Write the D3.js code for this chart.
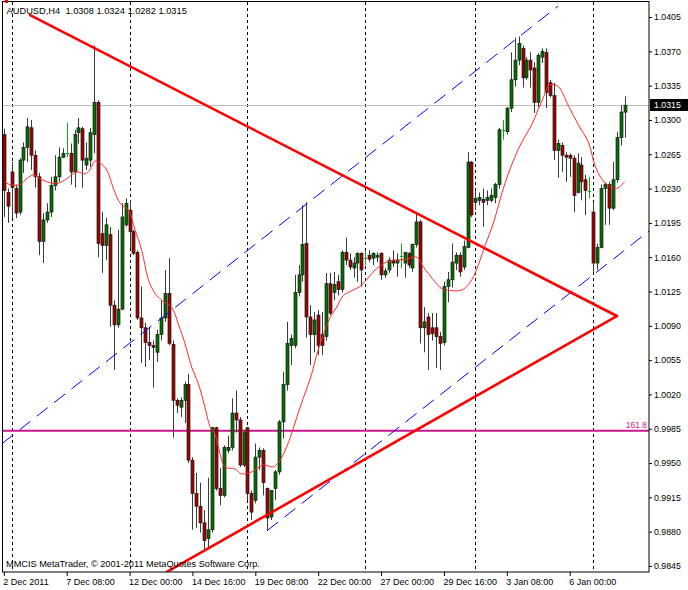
<!DOCTYPE html>
<html><head><meta charset="utf-8">
<script src="https://cdn.jsdelivr.net/npm/d3@7"></script>
<style>body{margin:0;background:#fff}svg{display:block}text{font-family:"Liberation Sans",Arial,sans-serif}</style>
</head><body><svg id="c" width="688" height="590"></svg>
<script>
const symbol = "AUDUSD,H4";
const openP = [1.0285,1.0226,1.0247,1.0230,1.0206,1.0259,1.0272,1.0292,1.0264,1.0242,1.0176,1.0198,1.0206,1.0233,1.0242,1.0262,1.0266,1.0266,1.0247,1.0287,1.0291,1.0254,1.0259,1.0285,1.0318,1.0184,1.0172,1.0183,1.0111,1.0091,1.0107,1.0193,1.0208,1.0186,1.0165,1.0098,1.0088,1.0073,1.0070,1.0063,1.0081,1.0098,1.0123,1.0071,1.0014,1.0007,1.0014,1.0030,0.9953,0.9919,0.9906,0.9889,0.9873,0.9882,0.9986,0.9924,0.9917,0.9963,0.9966,1.0001,0.9994,0.9948,0.9986,0.9919,0.9912,0.9956,0.9963,0.9924,0.9895,0.9924,0.9941,0.9992,1.0030,1.0070,1.0070,1.0124,1.0142,1.0174,1.0099,1.0081,1.0101,1.0081,1.0079,1.0133,1.0124,1.0135,1.0127,1.0165,1.0157,1.0149,1.0154,1.0164,1.0159,1.0162,1.0159,1.0160,1.0164,1.0142,1.0147,1.0157,1.0154,1.0161,1.0154,1.0164,1.0149,1.0173,1.0196,1.0088,1.0099,1.0088,1.0088,1.0079,1.0073,1.0130,1.0137,1.0154,1.0162,1.0150,1.0170,1.0257,1.0216,1.0218,1.0219,1.0218,1.0218,1.0221,1.0234,1.0290,1.0288,1.0312,1.0341,1.0361,1.0373,1.0343,1.0361,1.0353,1.0318,1.0364,1.0369,1.0338,1.0325,1.0269,1.0274,1.0264,1.0264,1.0261,1.0226,1.0254,1.0239,1.0228,1.0206,1.0154,1.0170,1.0230,1.0234,1.0210,1.0239,1.0282,1.0308];
const highP = [1.0291,1.0230,1.0257,1.0234,1.0261,1.0277,1.0302,1.0300,1.0269,1.0246,1.0205,1.0215,1.0242,1.0264,1.0272,1.0271,1.0297,1.0276,1.0290,1.0302,1.0293,1.0277,1.0292,1.0376,1.0320,1.0206,1.0200,1.0191,1.0116,1.0188,1.0215,1.0220,1.0218,1.0188,1.0167,1.0130,1.0093,1.0089,1.0075,1.0086,1.0116,1.0147,1.0159,1.0075,1.0016,1.0017,1.0033,1.0041,0.9956,0.9940,0.9930,0.9902,0.9935,0.9987,0.9987,0.9945,0.9968,0.9978,1.0016,1.0024,0.9997,0.9984,0.9987,0.9922,0.9970,0.9966,0.9965,0.9925,0.9922,0.9943,0.9994,1.0043,1.0094,1.0081,1.0142,1.0152,1.0213,1.0216,1.0111,1.0104,1.0106,1.0104,1.0144,1.0144,1.0145,1.0142,1.0167,1.0180,1.0164,1.0160,1.0165,1.0165,1.0167,1.0167,1.0165,1.0165,1.0165,1.0149,1.0160,1.0167,1.0164,1.0174,1.0165,1.0165,1.0174,1.0205,1.0198,1.0109,1.0103,1.0103,1.0103,1.0084,1.0135,1.0145,1.0174,1.0165,1.0165,1.0177,1.0267,1.0258,1.0228,1.0226,1.0230,1.0228,1.0230,1.0236,1.0292,1.0300,1.0313,1.0369,1.0384,1.0385,1.0376,1.0364,1.0369,1.0359,1.0368,1.0373,1.0373,1.0341,1.0338,1.0280,1.0277,1.0267,1.0266,1.0264,1.0266,1.0262,1.0244,1.0242,1.0215,1.0174,1.0234,1.0236,1.0237,1.0257,1.0288,1.0315,1.0324];
const lowP = [1.0201,1.0195,1.0200,1.0200,1.0203,1.0246,1.0257,1.0249,1.0231,1.0162,1.0154,1.0195,1.0201,1.0228,1.0237,1.0261,1.0262,1.0234,1.0231,1.0276,1.0231,1.0249,1.0252,1.0266,1.0160,1.0144,1.0157,1.0089,1.0045,1.0088,1.0106,1.0191,1.0169,1.0162,1.0096,1.0052,1.0048,1.0055,1.0027,1.0053,1.0075,1.0094,1.0070,0.9976,1.0001,0.9997,0.9991,0.9950,0.9882,0.9884,0.9879,0.9861,0.9863,0.9879,0.9922,0.9907,0.9915,0.9960,0.9963,0.9981,0.9946,0.9946,0.9912,0.9892,0.9909,0.9943,0.9917,0.9881,0.9892,0.9912,0.9938,0.9975,1.0024,1.0050,1.0067,1.0120,1.0135,1.0078,1.0050,1.0063,1.0060,1.0060,1.0075,1.0101,1.0116,1.0121,1.0124,1.0152,1.0147,1.0139,1.0135,1.0130,1.0152,1.0155,1.0152,1.0155,1.0137,1.0139,1.0144,1.0150,1.0140,1.0149,1.0139,1.0149,1.0145,1.0170,1.0072,1.0063,1.0045,1.0075,1.0047,1.0045,1.0070,1.0114,1.0129,1.0147,1.0140,1.0147,1.0169,1.0201,1.0208,1.0213,1.0191,1.0213,1.0216,1.0215,1.0230,1.0280,1.0285,1.0308,1.0334,1.0356,1.0333,1.0341,1.0333,1.0307,1.0313,1.0358,1.0312,1.0323,1.0259,1.0241,1.0247,1.0237,1.0242,1.0206,1.0225,1.0218,1.0203,1.0220,1.0145,1.0147,1.0169,1.0193,1.0193,1.0208,1.0236,1.0274,1.0282];
const closeP = [1.0228,1.0212,1.0231,1.0205,1.0259,1.0272,1.0293,1.0264,1.0242,1.0176,1.0198,1.0206,1.0233,1.0242,1.0262,1.0266,1.0266,1.0247,1.0285,1.0292,1.0259,1.0261,1.0287,1.0318,1.0174,1.0172,1.0193,1.0111,1.0091,1.0107,1.0201,1.0215,1.0186,1.0164,1.0098,1.0088,1.0073,1.0070,1.0068,1.0081,1.0098,1.0123,1.0072,1.0014,1.0009,1.0014,1.0030,0.9953,0.9919,0.9906,0.9889,0.9871,0.9882,0.9986,0.9924,0.9917,0.9966,0.9966,1.0001,0.9994,0.9948,0.9981,0.9919,0.9900,0.9956,0.9963,0.9930,0.9894,0.9922,0.9941,0.9992,1.0030,1.0072,1.0077,1.0124,1.0142,1.0173,1.0099,1.0081,1.0096,1.0070,1.0070,1.0133,1.0103,1.0132,1.0127,1.0165,1.0157,1.0150,1.0154,1.0164,1.0147,1.0159,1.0158,1.0164,1.0162,1.0142,1.0146,1.0157,1.0154,1.0157,1.0161,1.0165,1.0152,1.0173,1.0196,1.0088,1.0094,1.0081,1.0082,1.0079,1.0072,1.0130,1.0137,1.0155,1.0162,1.0145,1.0171,1.0257,1.0203,1.0220,1.0221,1.0216,1.0221,1.0223,1.0234,1.0290,1.0290,1.0312,1.0341,1.0361,1.0378,1.0343,1.0361,1.0351,1.0318,1.0366,1.0370,1.0328,1.0325,1.0269,1.0276,1.0264,1.0262,1.0261,1.0223,1.0256,1.0237,1.0228,1.0228,1.0154,1.0170,1.0230,1.0234,1.0210,1.0239,1.0282,1.0308,1.0315];

// moving average (bar index, price)
const maBar = [0.3,1.6,4.1,5.8,7.5,9.2,10.9,13.5,16,18.5,20.7,21.9,23.2,24.5,26.2,27.9,29.6,31.7,33.4,35.1,36.8,38.5,40.2,42.7,44.4,46.1,47.8,49.5,51.2,52.5,53.7,55,56.3,58.8,60.5,63.1,66,68.6,70.3,72.8,74.5,76.2,78.3,79.6,81.3,83,84.7,86.4,88.1,90.6,92.3,94.5,97.4,100,102.5,105.1,106.8,109.3,111.4,113.5,116.1,117.8,119.5,121.2,122.4,124.6,127.5,130.9,134.3,136.9,139,141.1,143.6,146.2,148.7,150.4,152.1,154.2,155.9,158];
const maVal = [1.0237,1.0234,1.0234,1.0240,1.0244,1.0240,1.0237,1.0235,1.0240,1.0247,1.0245,1.0249,1.0258,1.0256,1.0249,1.0230,1.0215,1.0208,1.0188,1.0167,1.0137,1.0123,1.0116,1.0109,1.0092,1.0072,1.0048,1.0031,1.0007,0.9987,0.9980,0.9960,0.9946,0.9944,0.9939,0.9941,0.9948,0.9946,0.9953,0.9975,0.9996,1.0016,1.0040,1.0060,1.0081,1.0098,1.0109,1.0121,1.0125,1.0130,1.0137,1.0147,1.0155,1.0157,1.0158,1.0160,1.0150,1.0137,1.0128,1.0126,1.0126,1.0130,1.0140,1.0157,1.0171,1.0195,1.0235,1.0270,1.0295,1.0319,1.0336,1.0334,1.0315,1.0295,1.0278,1.0254,1.0240,1.0232,1.0230,1.0237];

const priceTicks = [1.0405,1.0370,1.0335,1.0300,1.0265,1.0230,1.0195,1.0160,1.0125,1.0090,1.0055,1.0020,0.9985,0.9950,0.9915,0.9880,0.9845];
const timeLabels = ["2 Dec 2011","7 Dec 08:00","12 Dec 00:00","14 Dec 16:00","19 Dec 08:00","22 Dec 00:00","27 Dec 00:00","29 Dec 16:00","3 Jan 08:00","6 Jan 00:00"];
const timeLabelBars = [0,16,32,48,64,80,96,112,128,144];
const weekStartBars = [2,32,62,92,120,150];

// drawn objects (bar index, price)
const redTrendA = [[6.7,1.0407],[156,1.0100]];
const redTrendB = [[41.5,0.9839],[156,1.0100]];
const blueChannelA = [[-0.4,0.9970],[141.0,1.0416]];
const blueChannelB = [[67,0.9881],[164.3,1.0187]];
const fiboLevel = 0.9983, fiboLabel = "161.8";
const copyright = "MMCIS MetaTrader, \u00a9 2001-2011 MetaQuotes Software Corp.";

const N = closeP.length;
const svg = d3.select("#c");
const L = 2.5, R = 649, T = 2, B = 572;
const x = d3.scaleLinear().domain([0, N-1]).range([3.8, 624.7]);
const y = d3.scaleLinear().domain([0.9845, 1.0405]).range([566, 17]);

svg.append("defs").append("clipPath").attr("id","clip")
  .append("rect").attr("x",L).attr("y",T).attr("width",R-L).attr("height",B-T);

const plot = svg.append("g").attr("clip-path","url(#clip)");

// weekly vertical grid
plot.selectAll("line.grid").data(weekStartBars).join("line")
  .attr("x1", d => Math.round(x(d))+0.5).attr("x2", d => Math.round(x(d))+0.5)
  .attr("y1", T).attr("y2", B)
  .attr("stroke","#000").attr("stroke-width",1).attr("stroke-dasharray","3,3");

// current price line
const last = closeP[N-1];
plot.append("line").attr("x1",L).attr("x2",R)
  .attr("y1", Math.round(y(last))+0.5).attr("y2", Math.round(y(last))+0.5)
  .attr("stroke","#c0c0c0").attr("stroke-width",1);

// fibo level
plot.append("line").attr("x1",L).attr("x2",R)
  .attr("y1", y(fiboLevel)).attr("y2", y(fiboLevel))
  .attr("stroke","#c8168c").attr("stroke-width",2);

const bars = d3.range(N).map(i => ({i, o:openP[i], h:highP[i], l:lowP[i], c:closeP[i]}));
const cg = plot.append("g");
const doji = d => Math.abs(d.o - d.c) < 0.00005;
cg.selectAll("line.wick").data(bars).join("line")
  .attr("x1", d => Math.round(x(d.i))+0.5).attr("x2", d => Math.round(x(d.i))+0.5)
  .attr("y1", d => y(d.h)).attr("y2", d => y(d.l))
  .attr("stroke", d => doji(d) ? "#1aa01a" : "#3a3a3a").attr("stroke-width",1);
cg.selectAll("line.dtick").data(bars.filter(doji)).join("line")
  .attr("x1", d => Math.round(x(d.i))-1).attr("x2", d => Math.round(x(d.i))+2)
  .attr("y1", d => Math.round(y(d.o))+0.5).attr("y2", d => Math.round(y(d.o))+0.5)
  .attr("stroke","#1aa01a").attr("stroke-width",1);
cg.selectAll("rect.body").data(bars.filter(d => !doji(d))).join("rect")
  .attr("x", d => Math.round(x(d.i))-1)
  .attr("width", 3)
  .attr("y", d => Math.min(y(d.o), y(d.c)))
  .attr("height", d => Math.max(1, Math.abs(y(d.o)-y(d.c))))
  .attr("fill", d => d.c > d.o ? "#006e00" : "#a00000")
  .attr("stroke","#1a1a1a").attr("stroke-width",0.7);

// moving average
const maPts = maBar.map((b,k) => [b, maVal[k]]);
plot.append("path").datum(maPts)
  .attr("d", d3.line().x(d => x(d[0])).y(d => y(d[1])).curve(d3.curveCatmullRom))
  .attr("fill","none").attr("stroke","#ff2a2a").attr("stroke-width",1);

// channels
[blueChannelA, blueChannelB].forEach(s => {
  plot.append("line").attr("x1",x(s[0][0])).attr("y1",y(s[0][1]))
    .attr("x2",x(s[1][0])).attr("y2",y(s[1][1]))
    .attr("stroke","#0000ff").attr("stroke-width",1).attr("stroke-dasharray","14,8");
});
// triangle trendlines
[redTrendA, redTrendB].forEach(s => {
  plot.append("line").attr("x1",x(s[0][0])).attr("y1",y(s[0][1]))
    .attr("x2",x(s[1][0])).attr("y2",y(s[1][1]))
    .attr("stroke","#ff0000").attr("stroke-width",2.6).attr("stroke-linecap","round");
});

// frame
svg.append("rect").attr("x",L).attr("y",T-0.5).attr("width",R-L).attr("height",B-T+0.5)
  .attr("fill","none").attr("stroke","#000").attr("stroke-width",1);

// right axis
const ya = svg.append("g").attr("transform",`translate(${R},0)`)
  .call(d3.axisRight(y).tickValues(priceTicks).tickSize(3).tickPadding(2).tickFormat(d3.format(".4f")));
ya.select(".domain").remove();
ya.selectAll("text").attr("font-size","8.8px").attr("fill","#000").attr("font-family","Liberation Sans, Arial, sans-serif");
ya.selectAll("line").attr("stroke","#000");

// bottom axis
const xa = svg.append("g").attr("transform",`translate(0,${B})`)
  .call(d3.axisBottom(x).tickValues(timeLabelBars).tickSize(4).tickPadding(3).tickFormat((d,k) => timeLabels[k]));
xa.select(".domain").remove();
xa.selectAll("text").attr("text-anchor","start").attr("dx","-1").attr("font-size","9px").attr("fill","#000").attr("font-family","Liberation Sans, Arial, sans-serif");
xa.selectAll("line").attr("stroke","#000");

// current price label
svg.append("rect").attr("x",R+1).attr("y",Math.round(y(last))-6).attr("width",688-R-1).attr("height",12).attr("fill","#000");
svg.append("text").attr("x",R+5).attr("y",y(last)).attr("dy","0.34em").attr("font-size","8.8px").attr("fill","#fff").text(last.toFixed(4));

// fibo label
svg.append("text").attr("x",R-2).attr("y",y(fiboLevel)-3).attr("text-anchor","end").attr("font-size","8.5px").attr("fill","#c8168c").text(fiboLabel);

// header
svg.append("rect").attr("x",5).attr("y",0).attr("width",3).attr("height",3).attr("fill","#ff0000");
svg.append("text").attr("x",6.5).attr("y",14).attr("font-size","9.3px").attr("fill","#000").style("white-space","pre")
  .text(`${symbol}  ${openP[N-1].toFixed(4)} ${highP[N-1].toFixed(4)} ${lowP[N-1].toFixed(4)} ${closeP[N-1].toFixed(4)}`);
svg.append("text").attr("x",6).attr("y",567).attr("font-size","9.2px").attr("fill","#000").text(copyright);
</script></body></html>
